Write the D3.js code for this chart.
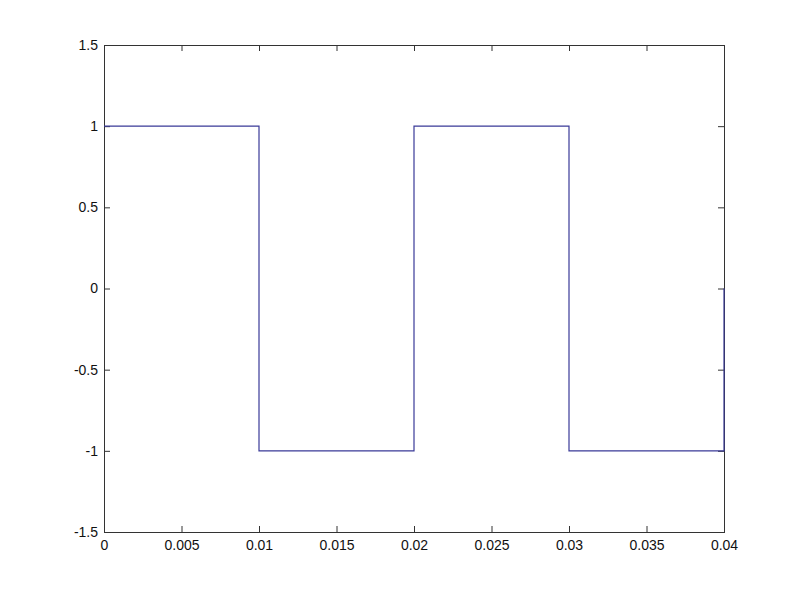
<!DOCTYPE html>
<html><head><meta charset="utf-8">
<script src="https://cdn.jsdelivr.net/npm/d3@7"></script>
<style>body{margin:0;background:#fff}svg{display:block}text{font-family:"Liberation Sans",Arial,sans-serif;font-size:14px;fill:#111}</style>
</head><body>
<script>
const timeValues = [0, 0.01, 0.01, 0.02, 0.02, 0.03, 0.03, 0.04, 0.04];
const signalValues = [1, 1, -1, -1, 1, 1, -1, -1, 0];
const xTicks = [0, 0.005, 0.01, 0.015, 0.02, 0.025, 0.03, 0.035, 0.04];
const yTicks = [-1.5, -1, -0.5, 0, 0.5, 1, 1.5];

const W = 800, H = 599;
const m = {left: 104, right: 76, top: 45, bottom: 67};
const svg = d3.select("body").append("svg").attr("width", W).attr("height", H);
const x = d3.scaleLinear().domain([0, 0.04]).range([m.left, W - m.right]);
const y = d3.scaleLinear().domain([-1.5, 1.5]).range([H - m.bottom, m.top]);
const fmt = d => String(d);

function style(g){ g.select(".domain").remove(); g.selectAll("line").attr("stroke","#333"); g.selectAll("text").attr("fill","#111"); }

svg.append("g").attr("transform",`translate(0,${H-m.bottom})`)
  .call(d3.axisBottom(x).tickValues(xTicks).tickFormat(fmt).tickSizeInner(-6).tickSizeOuter(0).tickPadding(8)).call(style);
svg.append("g").attr("transform",`translate(0,${m.top})`)
  .call(d3.axisTop(x).tickValues(xTicks).tickFormat("").tickSizeInner(-6).tickSizeOuter(0)).call(style);
svg.append("g").attr("transform",`translate(${m.left},0)`)
  .call(d3.axisLeft(y).tickValues(yTicks).tickFormat(fmt).tickSizeInner(-6).tickSizeOuter(0).tickPadding(6)).call(style);
svg.append("g").attr("transform",`translate(${W-m.right},0)`)
  .call(d3.axisRight(y).tickValues(yTicks).tickFormat("").tickSizeInner(-6).tickSizeOuter(0)).call(style);

svg.append("rect").attr("x", m.left+0.5).attr("y", m.top+0.5)
  .attr("width", W-m.left-m.right).attr("height", H-m.top-m.bottom)
  .attr("fill","none").attr("stroke","#333").attr("stroke-width",1);

const line = d3.line().x((d,i)=>x(timeValues[i])).y(d=>y(d));
svg.append("path").datum(signalValues).attr("d", line)
  .attr("fill","none").attr("stroke","#3a3a98").attr("stroke-width",1.2);
</script>
</body></html>
